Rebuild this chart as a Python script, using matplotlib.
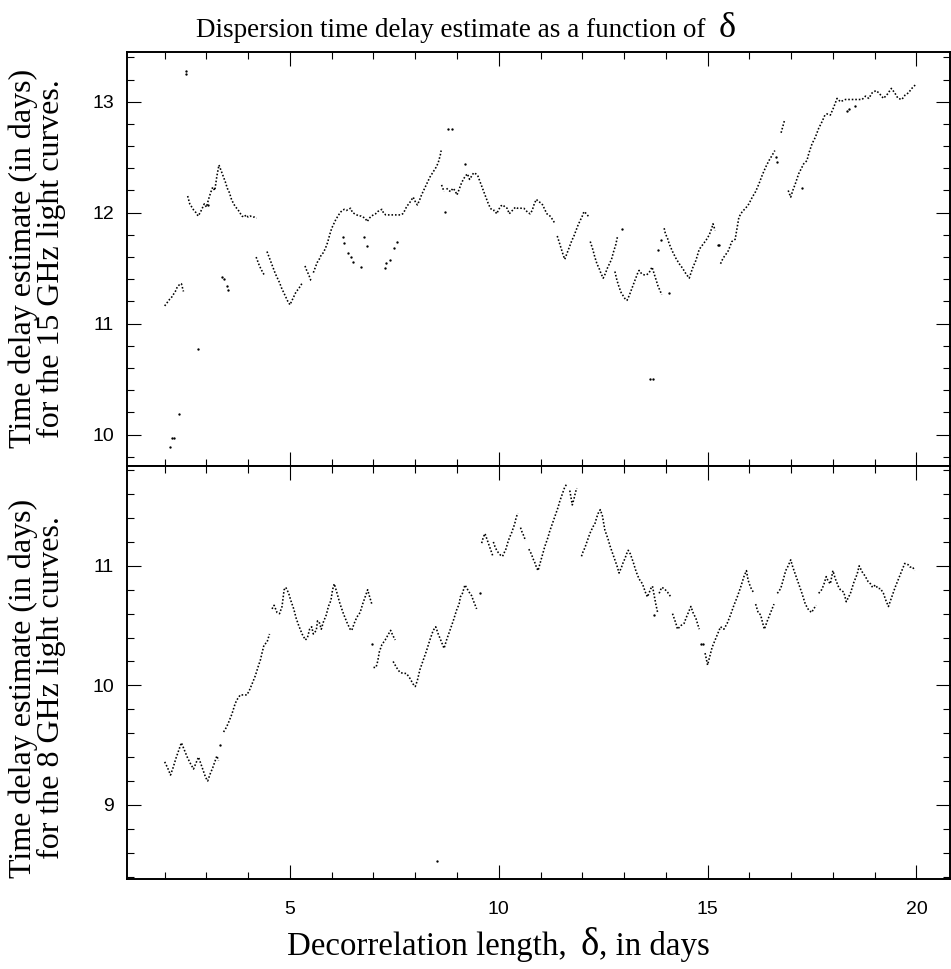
import numpy as np
import matplotlib
matplotlib.use("Agg")
import matplotlib.pyplot as plt
from matplotlib.ticker import MultipleLocator

nan = np.nan

# 15 GHz estimates vs decorrelation length (main runs, nan = break)
d15 = [2.0, 2.06, 2.12, 2.17, 2.22, 2.27, 2.3, 2.35, 2.4, 2.45, nan,
       2.55, 2.6, 2.65, 2.7, 2.75, 2.8, 2.85, 2.9, 2.95, 3.0, 3.05, 3.1, 3.15, 3.2, 3.25, 3.3, 3.35, 3.4, 3.45, 3.5,
       3.55, 3.6, 3.65, 3.7, 3.75, 3.8, 3.85, 3.9, 3.95, 4.0, 4.05, 4.1, 4.15, 4.2, nan,
       4.19, 4.23, 4.27, 4.31, 4.35, 4.4, nan,
       4.45, 4.5, 4.55, 4.6, 4.65, 4.7, 4.75, 4.8, 4.85, 4.9, 4.95, 5.0, 5.05, 5.1, 5.15, 5.2, 5.25, 5.3, nan,
       5.36, 5.4, 5.45, 5.5, 5.53, nan,
       5.56, 5.6, 5.65, 5.7, 5.75, 5.8, 5.85, 5.9, 5.95, 6.0, 6.05, 6.1, 6.15, 6.2, 6.25, 6.3, 6.35, 6.4, 6.45, 6.5,
       6.55, 6.6, 6.65, 6.7, 6.75, 6.8, 6.85, 6.9, 6.95, 7.0, 7.05, 7.1, 7.15, 7.2, 7.25, 7.3, 7.35, 7.4, 7.45, 7.5,
       7.55, 7.6, 7.65, 7.7, 7.75, 7.8, 7.85, 7.9, 7.95, 8.0, 8.05, 8.1, 8.15, 8.2, 8.25, 8.3, 8.35, 8.4, 8.45, 8.5,
       8.55, 8.6, 8.62, nan,
       8.63, 8.69, nan,
       8.75, 8.8, 8.85, 8.9, 8.95, 9.0, 9.05, 9.1, 9.15, 9.2, 9.25, 9.3, 9.35, 9.4, 9.45, 9.5, 9.55, 9.6, 9.65, 9.7,
       9.75, 9.8, 9.85, 9.9, 9.95, 10.0, 10.05, 10.1, 10.15, 10.2, 10.25, 10.3, 10.35, 10.4, 10.45, 10.5, 10.55, 10.6,
       10.65, 10.7, 10.75, 10.8, 10.85, 10.9, 10.95, 11.0, 11.05, 11.1, 11.15, 11.2, 11.25, 11.3, 11.35, nan,
       11.4, 11.45, 11.5, 11.55, 11.58, 11.62, 11.66, 11.7, 11.75, 11.8, 11.85, 11.9, 11.95, 12.0, 12.04, 12.1, 12.16, nan,
       12.19, 12.25, 12.3, 12.35, 12.4, 12.45, 12.5, 12.55, 12.6, 12.65, 12.7, 12.75, 12.8, 12.84, nan,
       12.78, 12.83, 12.88, 12.93, 12.98, 13.03, 13.07, 13.12, 13.17, 13.22, 13.27, 13.32, 13.36, 13.42, 13.48, 13.54,
       13.6, 13.67, 13.72, 13.77, 13.82, 13.86, 13.9, nan,
       13.96, 13.99, 14.04, 14.08, 14.16, 14.24, 14.32, 14.4, 14.48, 14.56, 14.64, 14.72, 14.8, 14.88, 14.96, 15.04,
       15.1, 15.13, 15.18, nan,
       15.31, 15.37, 15.43, 15.5, 15.58, 15.66, 15.71, 15.75, 15.83, 15.91, 15.99, 16.07, 16.15, 16.23, 16.31, 16.39,
       16.47, 16.55, 16.61, nan,
       16.76, 16.79, 16.84, nan,
       16.93, 16.99, 17.04, 17.1, 17.18, 17.3, 17.38, 17.42, 17.5, 17.58, 17.66, 17.74, 17.81, 17.86, 17.94, 18.02,
       18.1, 18.18, 18.24, 18.3, 18.4, 18.5, 18.62, 18.7, 18.78, 18.86, 18.94, 19.03, 19.1, 19.21, 19.29, 19.4,
       19.48, 19.56, 19.65, 19.73, 19.81, 19.89, 19.97]
t15 = [11.16, 11.19, 11.22, 11.24, 11.27, 11.3, 11.33, 11.35, 11.36, 11.29, nan,
       12.15, 12.08, 12.05, 12.02, 12.0, 11.97, 12.0, 12.04, 12.08, 12.05, 12.12, 12.18, 12.23, 12.2, 12.33, 12.43, 12.38, 12.33, 12.28, 12.22,
       12.18, 12.12, 12.08, 12.05, 12.03, 12.0, 11.97, 11.96, 11.98, 11.96, 11.97, 11.96, 11.96, 11.95, nan,
       11.6, 11.56, 11.52, 11.49, 11.46, 11.43, nan,
       11.65, 11.6, 11.55, 11.5, 11.45, 11.41, 11.37, 11.32, 11.28, 11.24, 11.2, 11.17, 11.21, 11.25, 11.29, 11.31, 11.34, 11.37, nan,
       11.52, 11.48, 11.44, 11.39, 11.38, nan,
       11.46, 11.5, 11.55, 11.58, 11.62, 11.64, 11.68, 11.73, 11.8, 11.86, 11.9, 11.94, 11.97, 12.0, 12.02, 12.03, 12.02, 12.03, 12.04, 12.0,
       11.99, 11.98, 11.97, 11.97, 11.96, 11.95, 11.92, 11.95, 11.97, 11.98, 11.99, 12.01, 12.02, 12.03, 11.99, 11.98, 11.98, 11.98, 11.98, 11.98,
       11.98, 11.98, 11.98, 11.99, 12.02, 12.06, 12.08, 12.11, 12.14, 12.1, 12.07, 12.11, 12.16, 12.2, 12.24, 12.28, 12.32, 12.35, 12.38, 12.41,
       12.45, 12.52, 12.56, nan,
       12.25, 12.19, nan,
       12.22, 12.2, 12.19, 12.22, 12.2, 12.16, 12.21, 12.26, 12.3, 12.33, 12.35, 12.3, 12.33, 12.36, 12.35, 12.33, 12.28, 12.23, 12.18, 12.13,
       12.08, 12.04, 12.02, 12.02, 11.99, 12.03, 12.06, 12.07, 12.05, 12.04, 11.99, 12.01, 12.03, 12.05, 12.04, 12.04, 12.04, 12.04,
       12.02, 12.0, 11.99, 12.02, 12.08, 12.12, 12.1, 12.09, 12.07, 12.03, 11.99, 11.98, 11.96, 11.93, 11.9, nan,
       11.79, 11.73, 11.67, 11.61, 11.58, 11.62, 11.66, 11.7, 11.75, 11.79, 11.84, 11.89, 11.93, 11.97, 12.01, 11.99, 11.96, nan,
       11.74, 11.67, 11.6, 11.54, 11.5, 11.45, 11.41, 11.45, 11.5, 11.54, 11.58, 11.65, 11.71, 11.78, nan,
       11.47, 11.39, 11.33, 11.28, 11.25, 11.22, 11.21, 11.25, 11.3, 11.35, 11.4, 11.45, 11.48, 11.45, 11.44, 11.44,
       11.46, 11.51, 11.45, 11.39, 11.33, 11.3, 11.26, nan,
       11.86, 11.81, 11.77, 11.72, 11.65, 11.59, 11.54, 11.5, 11.45, 11.41, 11.5, 11.57, 11.67, 11.71, 11.75, 11.8,
       11.86, 11.9, 11.84, nan,
       11.54, 11.59, 11.62, 11.66, 11.74, 11.76, 11.87, 11.96, 12.01, 12.04, 12.08, 12.14, 12.19, 12.26, 12.34, 12.41,
       12.47, 12.52, 12.56, nan,
       12.72, 12.76, 12.83, nan,
       12.2, 12.14, 12.2, 12.26, 12.35, 12.44, 12.47, 12.53, 12.62, 12.68, 12.76, 12.82, 12.88, 12.89, 12.88, 12.95,
       13.03, 13.0, 13.01, 13.02, 13.02, 13.02, 13.02, 13.02, 13.05, 13.03, 13.08, 13.1, 13.08, 13.03, 13.06, 13.12,
       13.08, 13.03, 13.02, 13.06, 13.08, 13.12, 13.15]

# isolated 15 GHz estimates
d15_pts = [2.12, 2.17, 2.23, 2.34, 2.5, 2.52, 2.8, 3.03, 3.37, 3.41, 3.49, 3.52,
           6.27, 6.3, 6.4, 6.45, 6.5, 6.7, 6.78, 6.84, 7.28, 7.31, 7.4, 7.48, 7.56,
           8.71, 8.79, 8.87, 9.19, 12.94, 13.61, 13.69, 13.81, 13.88, 14.08,
           15.24, 15.27, 16.64, 16.65, 17.25, 18.34, 18.38, 18.54]
t15_pts = [9.89, 9.97, 9.97, 10.19, 13.28, 13.25, 10.77, 12.07, 11.42, 11.4, 11.34, 11.3,
           11.78, 11.73, 11.64, 11.6, 11.56, 11.51, 11.78, 11.7, 11.5, 11.55, 11.57, 11.68, 11.74,
           12.01, 12.75, 12.75, 12.44, 11.85, 10.5, 10.5, 11.66, 11.75, 11.28,
           11.71, 11.71, 12.5, 12.46, 12.22, 12.92, 12.93, 12.96]

# 8 GHz estimates
d8 = [2.0, 2.07, 2.14, 2.2, 2.27, 2.34, 2.4, 2.47, 2.54, 2.61, 2.69, 2.75, 2.81, 2.87, 2.93, 2.98, 3.03, 3.09,
      3.15, 3.2, 3.25, 3.29, nan,
      3.41, 3.48, 3.53, 3.61, 3.69, 3.75, 3.81, 3.89, 3.97, 4.03, 4.09, 4.17, 4.25, 4.29, 4.33, 4.38, 4.45, 4.51, nan,
      4.57, 4.62, 4.69, 4.75, 4.81, 4.86, 4.9, 4.97, 5.02, 5.09, 5.15, 5.21, 5.29, 5.37, 5.42, 5.47, 5.52, 5.56,
      5.63, 5.66, 5.71, 5.75, 5.8, 5.87, 5.92, 5.98, 6.02, 6.06, 6.12, 6.2, 6.28, 6.36, 6.44, 6.48, 6.54, 6.6,
      6.68, 6.74, 6.8, 6.86, 6.9, 6.96, nan,
      7.0, 7.06, 7.1, 7.14, 7.2, 7.28, 7.36, 7.41, 7.46, 7.52, nan,
      7.47, 7.55, 7.63, 7.71, 7.79, 7.87, 7.95, 8.0, 8.05, 8.11, 8.19, 8.27, 8.35, 8.43, 8.49, 8.55, 8.63, 8.69,
      8.75, 8.83, 8.91, 8.99, 9.05, 9.08, 9.13, 9.19, 9.24, 9.29, 9.35, 9.39, 9.47, nan,
      9.59, 9.63, 9.67, 9.71, 9.75, 9.79, 9.83, 9.86, nan,
      9.87, 9.91, 9.95, 9.99, 10.04, 10.09, 10.13, 10.17, 10.22, 10.26, 10.3, 10.34, 10.38, 10.42, 10.46, nan,
      10.52, 10.56, 10.6, 10.64, nan,
      10.72, 10.78, 10.82, 10.86, 10.9, 10.94, 10.98, 11.02, 11.06, 11.1, 11.14, 11.18, 11.22, 11.26, 11.3, 11.34,
      11.38, 11.42, 11.46, 11.5, 11.54, 11.58, 11.62, nan,
      11.7, 11.74, 11.76, 11.8, 11.84, 11.87, nan,
      11.98, 12.02, 12.06, 12.1, 12.14, 12.18, 12.22, 12.26, 12.3, 12.34, 12.38, 12.43, 12.48, 12.51, 12.54, 12.58,
      12.62, 12.66, 12.7, 12.74, 12.78, 12.83, 12.88, 12.94, 12.98, 13.02, 13.06, 13.1, 13.15, 13.22, 13.29, 13.36,
      13.44, 13.52, 13.56, 13.64, 13.68, 13.76, 13.81, nan,
      13.84, 13.9, 13.96, 14.04, 14.12, nan,
      14.16, 14.2, 14.24, 14.28, 14.36, 14.44, 14.48, 14.54, 14.6, 14.65, 14.72, 14.8, nan,
      14.94, 15.0, 15.05, 15.11, 15.18, 15.24, 15.31, 15.39, 15.47, 15.55, 15.63, 15.71, 15.79, 15.87, 15.93, 15.97,
      16.03, 16.11, nan,
      16.15, 16.21, 16.27, 16.32, 16.36, 16.43, 16.51, 16.59, nan,
      16.67, 16.75, 16.8, 16.87, 16.93, 16.99, 17.04, 17.11, 17.18, 17.26, 17.34, 17.42, 17.49, 17.54, 17.6, nan,
      17.66, 17.73, 17.78, 17.84, 17.89, 17.94, 18.0, 18.06, 18.14, 18.18, 18.26, 18.32, 18.42, 18.5, 18.58, 18.63,
      18.7, 18.78, 18.84, 18.9, 18.95, 19.02, 19.08, 19.14, 19.21, 19.27, 19.33, 19.41, 19.49, 19.57, 19.65, 19.72,
      19.8, 19.85, 19.91, 19.96]
t8 = [9.36, 9.31, 9.25, 9.31, 9.39, 9.46, 9.52, 9.46, 9.4, 9.35, 9.3, 9.35, 9.4, 9.34, 9.28, 9.23, 9.2, 9.26,
      9.31, 9.36, 9.41, 9.37, nan,
      9.61, 9.65, 9.69, 9.76, 9.85, 9.89, 9.92, 9.92, 9.92, 9.96, 10.01, 10.08, 10.17, 10.21, 10.27, 10.34, 10.36, 10.43, nan,
      10.64, 10.67, 10.61, 10.6, 10.66, 10.8, 10.82, 10.77, 10.71, 10.64, 10.56, 10.5, 10.43, 10.38, 10.4, 10.47, 10.49, 10.43,
      10.46, 10.54, 10.52, 10.47, 10.53, 10.59, 10.66, 10.71, 10.8, 10.85, 10.78, 10.68, 10.6, 10.53, 10.47, 10.46, 10.52, 10.57,
      10.61, 10.68, 10.74, 10.8, 10.75, 10.68, nan,
      10.15, 10.15, 10.2, 10.28, 10.34, 10.38, 10.43, 10.46, 10.42, 10.38, nan,
      10.2, 10.15, 10.11, 10.1, 10.1, 10.06, 10.01, 9.99, 10.04, 10.13, 10.21, 10.29, 10.38, 10.46, 10.49, 10.43, 10.36, 10.31,
      10.38, 10.46, 10.54, 10.63, 10.68, 10.74, 10.77, 10.84, 10.81, 10.78, 10.75, 10.71, 10.64, nan,
      11.19, 11.24, 11.27, 11.23, 11.19, 11.15, 11.11, 11.08, nan,
      11.2, 11.16, 11.13, 11.11, 11.09, 11.08, 11.11, 11.14, 11.2, 11.24, 11.27, 11.31, 11.35, 11.41, 11.44, nan,
      11.32, 11.28, 11.25, 11.21, nan,
      11.14, 11.1, 11.06, 11.03, 10.99, 10.96, 11.01, 11.06, 11.11, 11.16, 11.2, 11.24, 11.29, 11.33, 11.37, 11.41,
      11.45, 11.49, 11.54, 11.58, 11.62, 11.66, 11.68, nan,
      11.63, 11.55, 11.51, 11.56, 11.62, 11.65, nan,
      11.08, 11.12, 11.15, 11.19, 11.23, 11.27, 11.3, 11.33, 11.35, 11.4, 11.44, 11.47, 11.42, 11.36, 11.3, 11.26,
      11.22, 11.17, 11.13, 11.09, 11.05, 11.0, 10.94, 10.99, 11.03, 11.06, 11.1, 11.13, 11.1, 11.03, 10.95, 10.89,
      10.85, 10.77, 10.74, 10.81, 10.83, 10.68, 10.6, nan,
      10.77, 10.82, 10.81, 10.78, 10.74, nan,
      10.6, 10.56, 10.52, 10.47, 10.5, 10.52, 10.56, 10.61, 10.66, 10.61, 10.56, 10.47, nan,
      10.27, 10.17, 10.24, 10.32, 10.38, 10.43, 10.49, 10.47, 10.52, 10.59, 10.67, 10.74, 10.82, 10.91, 10.96, 10.88,
      10.82, 10.77, nan,
      10.68, 10.61, 10.59, 10.52, 10.47, 10.54, 10.61, 10.68, nan,
      10.77, 10.81, 10.87, 10.96, 11.0, 11.05, 10.99, 10.92, 10.85, 10.77, 10.68, 10.63, 10.61, 10.64, 10.67, nan,
      10.77, 10.8, 10.84, 10.91, 10.87, 10.85, 10.96, 10.89, 10.82, 10.8, 10.78, 10.7, 10.77, 10.86, 10.93, 11.0,
      10.95, 10.91, 10.87, 10.85, 10.82, 10.84, 10.81, 10.81, 10.77, 10.71, 10.66, 10.74, 10.82, 10.89, 10.96, 11.02,
      11.01, 10.99, 10.99, 10.96]

# isolated 8 GHz estimates
d8_pts = [3.33, 6.96, 8.53, 9.55, 13.72, 14.84, 14.88]
t8_pts = [9.5, 10.35, 8.53, 10.77, 10.59, 10.35, 10.35]

serif = "Liberation Serif"
sans = "Liberation Sans"
W, H = 951, 969

fig = plt.figure(figsize=(W / 100, H / 100), dpi=100)
ax1 = fig.add_axes([0.1332, 0.5194, 0.866, 0.4266])
ax2 = fig.add_axes([0.1332, 0.0929, 0.866, 0.4265], sharex=ax1)

dots = dict(color="black", lw=1.15, ls=(0, (1, 1.2)))
pts = dict(ls="none", marker="o", ms=1.7, mew=0, color="black")

ax1.plot(d15, t15, **dots)
ax1.plot(d15_pts, t15_pts, **pts)
ax2.plot(d8, t8, **dots)
ax2.plot(d8_pts, t8_pts, **pts)

ax1.set_xlim(1.09, 20.81)
ax1.set_ylim(9.72, 13.445)
ax2.set_ylim(8.38, 11.838)

for ax in (ax1, ax2):
    ax.xaxis.set_major_locator(MultipleLocator(5))
    ax.xaxis.set_minor_locator(MultipleLocator(1))
    ax.yaxis.set_major_locator(MultipleLocator(1))
    ax.yaxis.set_minor_locator(MultipleLocator(0.2))
    ax.tick_params(which="both", direction="in", top=True, right=True, width=0.8)
    ax.tick_params(which="major", length=10)
    ax.tick_params(which="minor", length=5)
    ax.tick_params(axis="y", pad=9)
    ax.tick_params(axis="x", pad=16)
    for s in ax.spines.values():
        s.set_linewidth(1.4)
    for lab in ax.get_xticklabels() + ax.get_yticklabels():
        lab.set_fontfamily(sans)
        lab.set_fontsize(14)

ax1.tick_params(labelbottom=False)


def text_row(x_px, base_px, pieces):
    # pieces: (string, size, gap before in px), placed left to right on one baseline
    r = fig.canvas.get_renderer()
    x = x_px
    for s, size, gap in pieces:
        x += gap
        t = fig.text(x / W, 1 - base_px / H, s, ha="left", va="baseline", family=serif, fontsize=size)
        x = t.get_window_extent(r).x1


text_row(196, 37, [("Dispersion time delay estimate as a function of", 19.5, 0), ("δ", 26, 13)])
text_row(287, 955, [("Decorrelation length,", 23.7, 0), ("δ", 28, 14), (", in days", 23.7, 0)])

for yc, lab in [(0.733, "Time delay estimate (in days)\nfor the 15 GHz light curves."),
                (0.29, "Time delay estimate (in days)\nfor the 8 GHz light curves.")]:
    fig.text(0.039, yc, lab, rotation=90, ha="center", va="center",
             family=serif, fontsize=23, linespacing=0.97)

fig.savefig("out.png", dpi=100)
